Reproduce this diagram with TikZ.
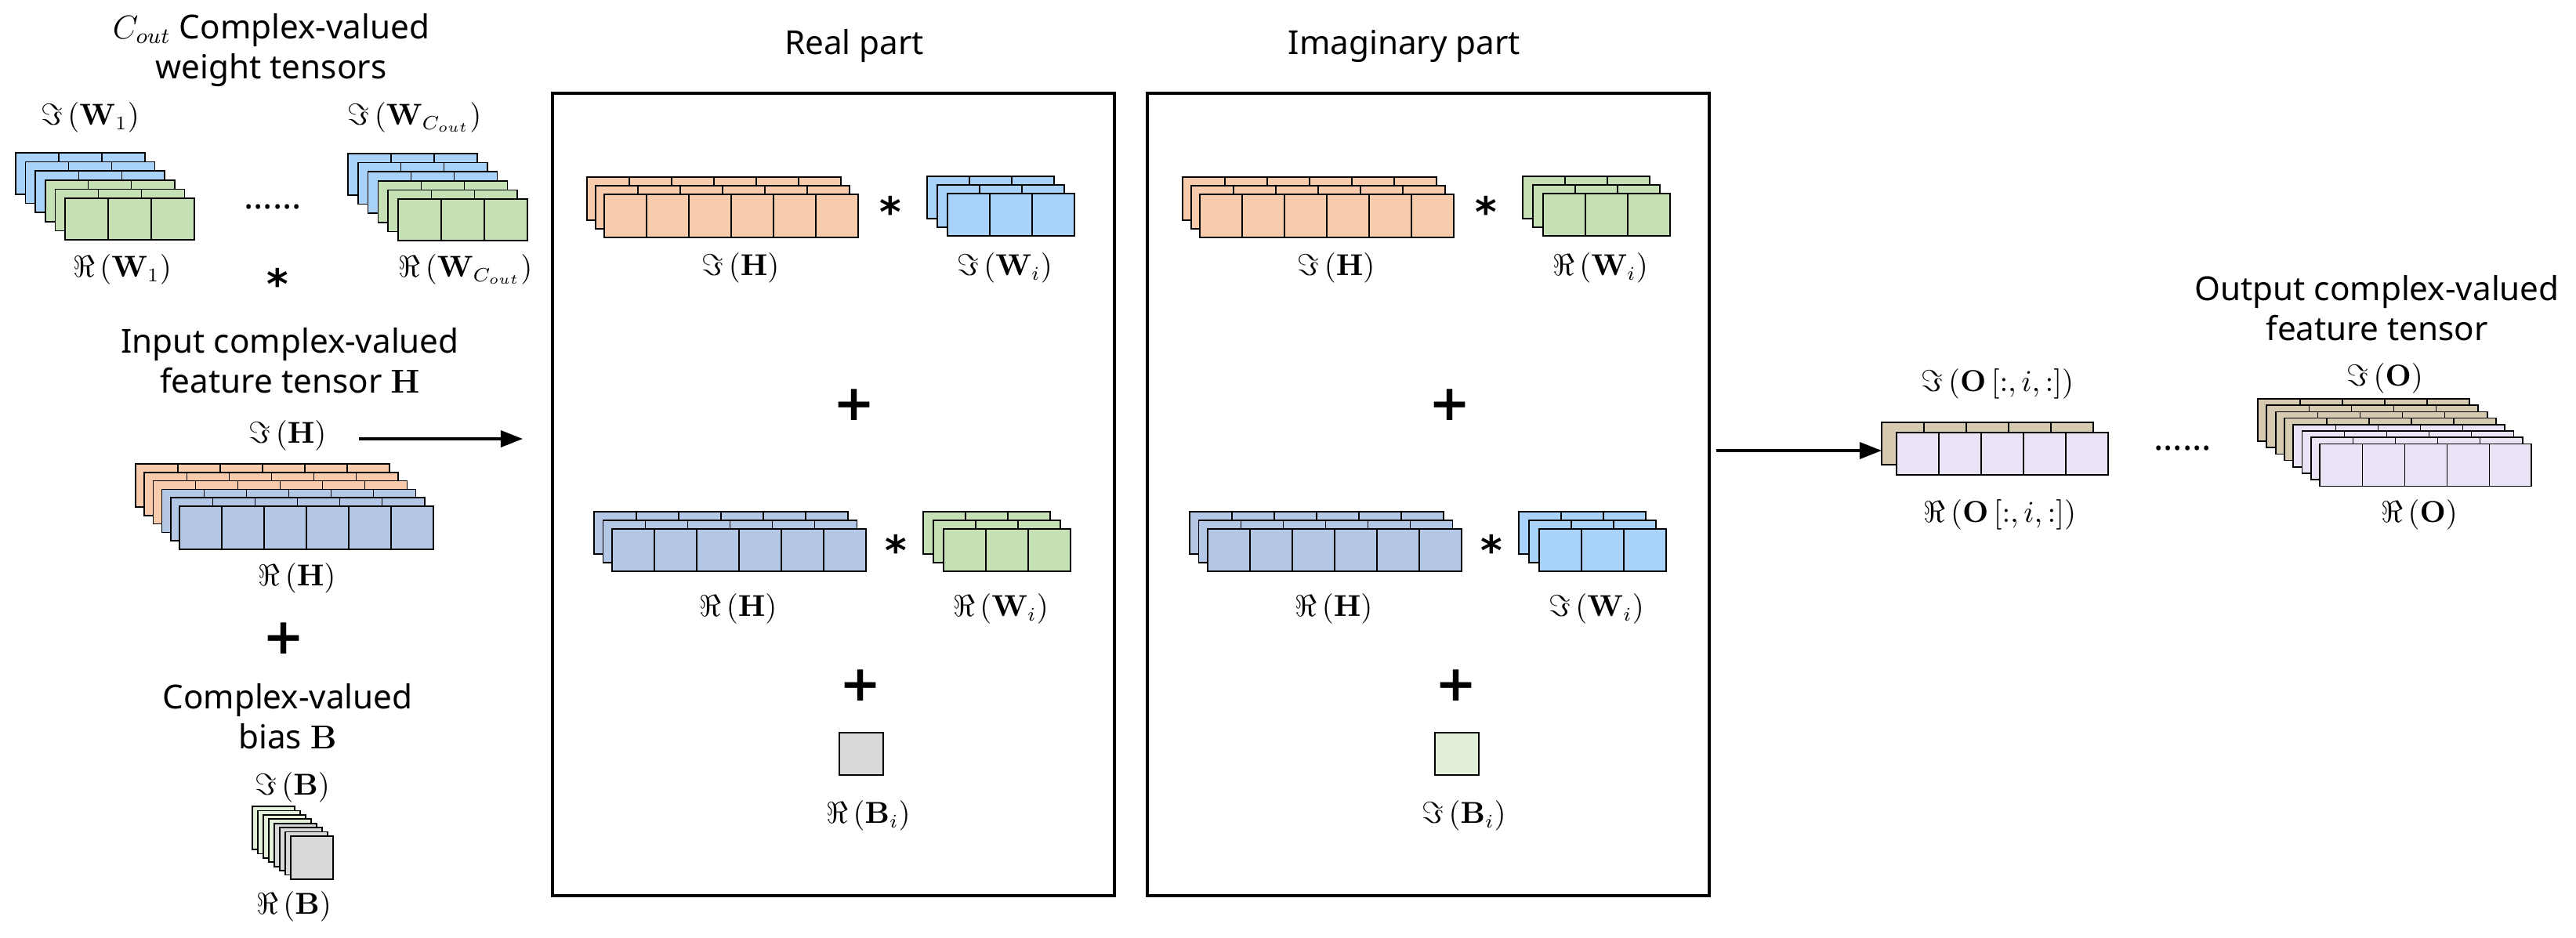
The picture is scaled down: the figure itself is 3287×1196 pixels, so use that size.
\documentclass[tikz,border=0pt]{standalone}
\usepackage[no-math]{fontspec}
\setmainfont{Noto Sans}
\newfontfamily\opfont{DejaVu Sans}
\usetikzlibrary{arrows.meta}
\definecolor{wblue}{HTML}{AAD3FA}
\definecolor{wgreen}{HTML}{C5E0B4}
\definecolor{horange}{HTML}{F8CBAD}
\definecolor{hblue}{HTML}{B4C7E7}
\definecolor{bgreen}{HTML}{E2F0D9}
\definecolor{bgray}{HTML}{D9D9D9}
\definecolor{otan}{HTML}{D6CAB0}
\definecolor{olav}{HTML}{EAE4F6}
\newcommand\tstack[8]{%
  \foreach \c [count=\k from 0] in {#8} {
    \pgfmathsetmacro\xa{#1+\k*#3}
    \pgfmathsetmacro\ya{#2+\k*#4}
    \draw[fill=\c, line width=0.5pt] (\xa,\ya) rectangle ++(#5*#7,#6);
    \ifnum#7>1
      \pgfmathtruncatemacro\nm{#7-1}
      \foreach \j in {1,...,\nm} \draw[line width=0.35pt] (\xa+\j*#5,\ya) -- ++(0,#6);
    \fi
  }}
\begin{document}
\begin{tikzpicture}[x=0.01cm,y=-0.01cm,
  title/.style={font=\fontsize{12}{14.5}\selectfont, align=center},
  lab/.style={font=\fontsize{10.5}{12}\selectfont},
  op/.style={font=\fontsize{18}{18}\selectfont\opfont\bfseries},
  star/.style={font=\fontsize{15}{15}\selectfont\opfont\bfseries},
  dots/.style={font=\fontsize{13}{13}\selectfont\bfseries},
  box/.style={draw, line width=1pt},
  arr/.style={line width=1pt, -{Triangle[length=8pt,width=6pt]}}]
\useasboundingbox (0,0) rectangle (3287,1196);
% ---------- left: weights
\node[title] (ttl) at (346,64) {$C_{out}$ Complex-valued\\weight tensors};
\node[lab] (imw1) at (115,150) {$\Im\left(\mathbf{W}_1\right)$};
\node[lab] (imwc) at (529,150) {$\Im\left(\mathbf{W}_{C_{out}}\right)$};
\tstack{20}{195}{12.6}{11.6}{55}{53}{3}{wblue,wblue,wblue,wgreen,wgreen,wgreen}
\tstack{444}{196}{12.8}{11.6}{55}{53}{3}{wblue,wblue,wblue,wgreen,wgreen,wgreen}
\node[lab] (rew1) at (156,344) {$\Re\left(\mathbf{W}_1\right)$};
\node[lab] (rewc) at (594,344) {$\Re\left(\mathbf{W}_{C_{out}}\right)$};
\node[dots] (wd) at (348,264) {......};
\node[star] (st1) at (354,362) {*};
% ---------- input
\node[title] (inp) at (370,460) {Input complex-valued\\feature tensor $\mathbf{H}$};
\node[lab] (imh) at (367,556) {$\Im\left(\mathbf{H}\right)$};
\tstack{173}{592}{11.2}{10.8}{54}{55}{6}{horange,horange,horange,hblue,hblue,hblue}
\node[lab] (reh) at (379,738) {$\Re\left(\mathbf{H}\right)$};
\node[op] (pl1) at (362,815) {+};
\node[title] (bias) at (367,914) {Complex-valued\\bias $\mathbf{B}$};
\node[lab] (imb) at (373,1005) {$\Im\left(\mathbf{B}\right)$};
\tstack{322}{1029}{7}{5.4}{54}{55}{1}{bgreen,bgreen,bgreen,bgreen,bgray,bgray,bgray,bgray}
\node[lab] (reb) at (375,1157) {$\Re\left(\mathbf{B}\right)$};
\coordinate (a1s) at (458,560);
\coordinate (a1e) at (667,560);
\draw[arr] (a1s) -- (a1e);
% ---------- real part box
\node (rt) at (1090,59) [font=\fontsize{12}{14}\selectfont] {Real part};
\draw[box] (705,119) rectangle (1422,1143);
\tstack{749}{226}{11}{11}{54}{55}{6}{horange,horange,horange}
\node[star] (rs1) at (1136,270) {*};
\tstack{1183}{225}{13}{11}{54}{54}{3}{wblue,wblue,wblue}
\node[lab] (r1a) at (945,342) {$\Im\left(\mathbf{H}\right)$};
\node[lab] (r1b) at (1282,342) {$\Im\left(\mathbf{W}_i\right)$};
\node[op] (rp1) at (1090,517) {+};
\tstack{758}{653}{11.5}{11}{54}{54}{6}{hblue,hblue,hblue}
\node[star] (rs2) at (1143,702) {*};
\tstack{1178}{653}{13}{11}{54}{54}{3}{wgreen,wgreen,wgreen}
\node[lab] (r2a) at (942,777) {$\Re\left(\mathbf{H}\right)$};
\node[lab] (r2b) at (1277,777) {$\Re\left(\mathbf{W}_i\right)$};
\node[op] (rp2) at (1098,875) {+};
\tstack{1071}{935}{0}{0}{56}{54}{1}{bgray}
\node[lab] (r3) at (1108,1041) {$\Re\left(\mathbf{B}_i\right)$};
% ---------- imaginary part box
\node (it) at (1792,59) [font=\fontsize{12}{14}\selectfont] {Imaginary part};
\draw[box] (1464,119) rectangle (2181,1143);
\tstack{1509}{226}{11}{11}{54}{55}{6}{horange,horange,horange}
\node[star] (is1) at (1896,270) {*};
\tstack{1943}{225}{13}{11}{54}{54}{3}{wgreen,wgreen,wgreen}
\node[lab] (i1a) at (1705,342) {$\Im\left(\mathbf{H}\right)$};
\node[lab] (i1b) at (2042,342) {$\Re\left(\mathbf{W}_i\right)$};
\node[op] (ip1) at (1850,517) {+};
\tstack{1518}{653}{11.5}{11}{54}{54}{6}{hblue,hblue,hblue}
\node[star] (is2) at (1903,702) {*};
\tstack{1938}{653}{13}{11}{54}{54}{3}{wblue,wblue,wblue}
\node[lab] (i2a) at (1702,777) {$\Re\left(\mathbf{H}\right)$};
\node[lab] (i2b) at (2037,777) {$\Im\left(\mathbf{W}_i\right)$};
\node[op] (ip2) at (1858,875) {+};
\tstack{1831}{935}{0}{0}{56}{54}{1}{bgreen}
\node[lab] (i3) at (1868,1041) {$\Im\left(\mathbf{B}_i\right)$};
% ---------- output
\coordinate (a2s) at (2190,575);
\coordinate (a2e) at (2401,575);
\draw[arr] (a2s) -- (a2e);
\node[lab] (imo1) at (2549,490) {$\Im\left(\mathbf{O}\left[:,i,:\right]\right)$};
\tstack{2401}{539}{19}{13}{54}{54}{5}{otan,olav}
\node[lab] (reo1) at (2552,657) {$\Re\left(\mathbf{O}\left[:,i,:\right]\right)$};
\node[dots] (od) at (2785,572) {......};
\node[title] (ot) at (3033,393) {Output complex-valued\\feature tensor};
\node[lab] (imo) at (3043,483) {$\Im\left(\mathbf{O}\right)$};
\tstack{2881}{509}{11.3}{8.2}{54}{54}{5}{otan,otan,otan,otan,olav,olav,olav,olav}
\node[lab] (reo) at (3087,657) {$\Re\left(\mathbf{O}\right)$};
\end{tikzpicture}
\end{document}
